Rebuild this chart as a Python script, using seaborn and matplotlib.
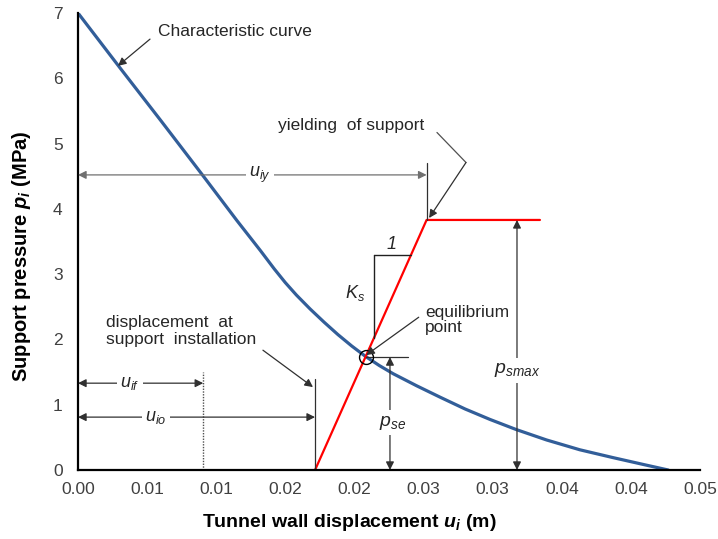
import numpy as np
import pandas as pd
import matplotlib
matplotlib.use("Agg")
import matplotlib.pyplot as plt
import seaborn as sns

# ---------------- data ----------------
curve_u = [0.0, 0.003, 0.006, 0.009, 0.0115, 0.0132, 0.0142, 0.0150, 0.0158,
           0.0168, 0.0178, 0.0188, 0.0198, 0.0208, 0.0218, 0.0228, 0.0245,
           0.0262, 0.0280, 0.0298, 0.0317, 0.0339, 0.0363, 0.0387, 0.0410,
           0.0427]
curve_p = [7.0, 6.17, 5.35, 4.52, 3.82, 3.36, 3.08, 2.87, 2.68,
           2.465, 2.265, 2.075, 1.90, 1.74, 1.60, 1.475, 1.29,
           1.115, 0.935, 0.775, 0.62, 0.46, 0.31, 0.19, 0.08,
           0.0]
support_u = [0.01715, 0.02522, 0.03342]
support_p = [0.0, 3.83, 3.83]
x_ticks = [0.0, 0.005, 0.01, 0.015, 0.02, 0.025, 0.03, 0.035, 0.04, 0.045]
x_tick_labels = ["0.00", "0.01", "0.01", "0.02", "0.02", "0.03", "0.03",
                 "0.04", "0.04", "0.05"]
y_ticks = [0, 1, 2, 3, 4, 5, 6, 7]

u_if = 0.00906      # dotted line
u_io = 0.01715      # support installation
u_iy = support_u[1]
p_smax = support_p[1]
u_eq, p_eq = 0.0208, 1.73

# ---------------- style ----------------
sns.set_theme(style="white")
plt.rcParams["font.family"] = ["Liberation Sans", "DejaVu Sans"]
plt.rcParams["mathtext.fontset"] = "custom"
plt.rcParams["mathtext.rm"] = "Liberation Sans"
plt.rcParams["mathtext.it"] = "Liberation Sans:italic"
plt.rcParams["mathtext.bf"] = "Liberation Sans:bold"
plt.rcParams["mathtext.bfit"] = "Liberation Sans:bold:italic"

fig = plt.figure(figsize=(7.18, 5.39), dpi=100)
ax = fig.add_axes([78 / 718, 1 - 470 / 539, 622 / 718, 457 / 539])

df_curve = pd.DataFrame({"u": curve_u, "p": curve_p})
df_sup = pd.DataFrame({"u": support_u, "p": support_p})
sns.lineplot(data=df_curve, x="u", y="p", ax=ax, color="#325E99", lw=2.3,
             sort=False, estimator=None)
sns.lineplot(data=df_sup, x="u", y="p", ax=ax, color="#FF0000", lw=1.6,
             sort=False, estimator=None)

ax.set_xlim(0, 0.045)
ax.set_ylim(0, 7)
ax.set_xticks(x_ticks)
ax.set_xticklabels(x_tick_labels)
ax.set_yticks(y_ticks)
for s in ["top", "right"]:
    ax.spines[s].set_visible(False)
for s in ["left", "bottom"]:
    ax.spines[s].set_color("black")
    ax.spines[s].set_linewidth(1.6)
ax.tick_params(axis="both", direction="in", length=4, width=1.3,
               colors="black", labelcolor="#404040", labelsize=12.5)
ax.tick_params(axis="x", pad=9)
ax.tick_params(axis="y", pad=11)

ax.set_xlabel(r"Tunnel wall displacement $\mathbfit{u}_{\mathbfit{i}}$ (m)",
              fontsize=14, fontweight="bold", color="black")
ax.set_ylabel(r"Support pressure $\mathbfit{p}_{\mathbfit{i}}$ (MPa)",
              fontsize=14.5, fontweight="bold", color="black")
ax.xaxis.set_label_coords(0.437, -0.092)
ax.yaxis.set_label_coords(-0.072, 0.468)

LC = "#303030"
TC = "#262626"


def arrow(xy, xytext, style="-|>", color=LC, lw=0.9, ms=12):
    ax.annotate("", xy=xy, xytext=xytext,
                arrowprops=dict(arrowstyle=style, color=color, lw=lw,
                                mutation_scale=ms, shrinkA=0, shrinkB=0))


def line(xs, ys, color=LC, lw=0.9, ls="-"):
    ax.plot(xs, ys, color=color, lw=lw, ls=ls)


box = dict(facecolor="white", edgecolor="none", pad=2.5)

# vertical guide lines
line([u_if, u_if], [0, 1.5], color="#505050", lw=1.0, ls=(0, (1, 1)))
line([u_io, u_io], [0, 1.39])
line([u_iy, u_iy], [p_smax, 4.71])

# horizontal dimension arrows
arrow((0, 1.33), (u_if, 1.33), style="<|-|>")
ax.text(0.00376, 1.33, r"$u_{if}$", fontsize=13, color=TC, ha="center",
        va="center", bbox=box)
arrow((0, 0.81), (u_io, 0.81), style="<|-|>")
ax.text(0.00564, 0.81, r"$u_{io}$", fontsize=13, color=TC, ha="center",
        va="center", bbox=box)
arrow((0, 4.52), (u_iy, 4.52), style="<|-|>", color="#707070")
ax.text(0.01317, 4.52, r"$u_{iy}$", fontsize=13, color=TC, ha="center",
        va="center", bbox=box)

# p_se
line([u_eq, 0.0239], [p_eq, p_eq])
arrow((0.02257, p_eq), (0.02257, 0), style="<|-|>")
ax.text(0.02279, 0.72, r"$p_{se}$", fontsize=14, color=TC, ha="center",
        va="center", bbox=box)
# p_smax
arrow((0.03176, p_smax), (0.03176, 0), style="<|-|>")
ax.text(0.03176, 1.53, r"$p_{smax}$", fontsize=14, color=TC, ha="center",
        va="center", bbox=box)

# slope triangle
k = support_p[1] / (support_u[1] - support_u[0])
tri_u, tri_p = 0.02141, 3.29
line([tri_u, tri_u], [tri_p, k * (tri_u - support_u[0])], color="#202020", lw=1.0)
line([tri_u, support_u[0] + tri_p / k], [tri_p, tri_p], color="#202020", lw=1.0)
ax.text(0.02266, 3.46, "1", fontsize=13, fontstyle="italic", color=TC,
        ha="center", va="center")
ax.text(0.02003, 2.71, r"$K_s$", fontsize=13, color=TC, ha="center", va="center")

# equilibrium circle
ax.plot([u_eq], [p_eq], marker="o", ms=10, mfc="none", mec="black", mew=1.0)

# texts and pointers
ax.text(0.00579, 6.71, "Characteristic curve", fontsize=12.5, color=TC,
        ha="left", va="center")
arrow((0.00289, 6.19), (0.00521, 6.6))

ax.text(0.01447, 5.28, "yielding  of support", fontsize=12.5, color=TC,
        ha="left", va="center")
line([0.02597, 0.02807], [5.17, 4.71], color="#505050")
arrow((0.0254, 3.86), (0.02807, 4.71), color="#303030")

ax.text(0.00203, 2.13, "displacement  at\nsupport  installation", fontsize=12.5,
        color=TC, ha="left", va="center", linespacing=1.1)
arrow((0.0170, 1.27), (0.01338, 1.835))

ax.text(0.0251, 2.30, "equilibrium\npoint", fontsize=12.5, color=TC,
        ha="left", va="center", linespacing=1.0)
arrow((0.02085, 1.76), (0.02465, 2.34))

fig.savefig("out.png", dpi=100, facecolor="white")
